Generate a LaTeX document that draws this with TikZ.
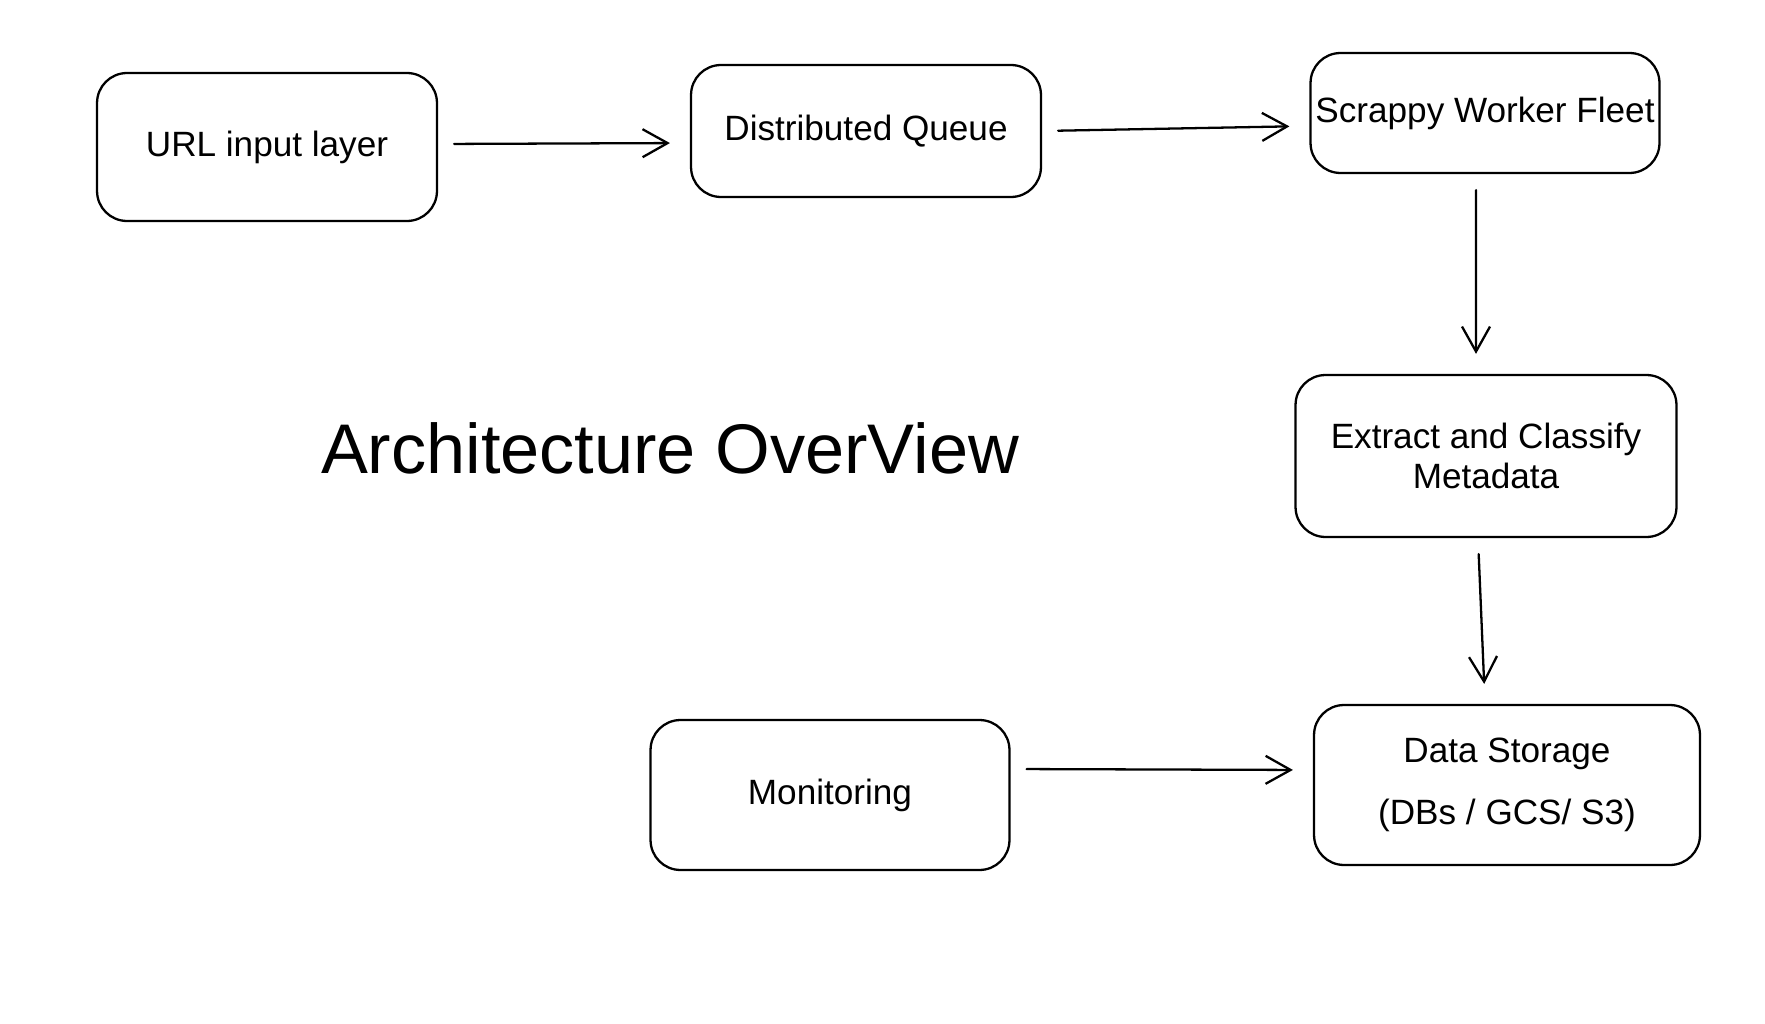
\documentclass[tikz,border=0pt]{standalone}
\usepackage{fontspec}
\setmainfont{Liberation Sans}
\usetikzlibrary{arrows.meta}

\begin{document}
\begin{tikzpicture}[x=0.02cm,y=-0.02cm,line width=1.3pt,line cap=round,
        >={Straight Barb[length=0.5cm,width=0.56cm]},
        block/.style={draw,rounded corners=0.6cm,align=center,inner sep=0pt,
                font=\fontsize{20}{23}\selectfont},
        flow/.style={->,shorten <=0.32cm,shorten >=0.4cm}]
        % keep the page as large as the reference
        \useasboundingbox (0,0) rectangle (1765,1024);

        % draw the blocks
        \node[block,minimum width=6.8cm,minimum height=2.96cm] (url) at (267,147) {URL input layer};
        \node[block,minimum width=7cm,minimum height=2.64cm] (queue) at (866,131) {Distributed Queue};
        \node[block,minimum width=6.98cm,minimum height=2.4cm] (fleet) at (1485,113) {Scrappy Worker Fleet};
        \node[block,minimum width=7.62cm,minimum height=3.24cm] (extract) at (1486,456) {Extract and Classify\\Metadata};
        \node[block,minimum width=7.72cm,minimum height=3.2cm] (storage) at (1507,785) {Data Storage\\[12pt](DBs / GCS/ S3)};
        \node[block,minimum width=7.18cm,minimum height=3cm] (monitor) at (830,795) {Monitoring};

        % draw the title
        \node[font=\fontsize{40}{48}\selectfont] (title) at (670,448) {Architecture OverView};

        % draw the arrows between the blocks
        \draw[flow] ([yshift=0.06cm]url.east) -- ([yshift=-0.24cm]queue.west);
        \draw[flow] (queue.east) -- ([yshift=-0.26cm]fleet.west);
        \draw[flow] ([xshift=-0.18cm]fleet.south) -- ([xshift=-0.2cm]extract.north);
        \draw[flow] ([xshift=-0.16cm]extract.south) -- ([xshift=-0.44cm]storage.north);
        \draw[flow] ([yshift=0.52cm]monitor.east) -- ([yshift=0.3cm]storage.west);
\end{tikzpicture}
\end{document}
